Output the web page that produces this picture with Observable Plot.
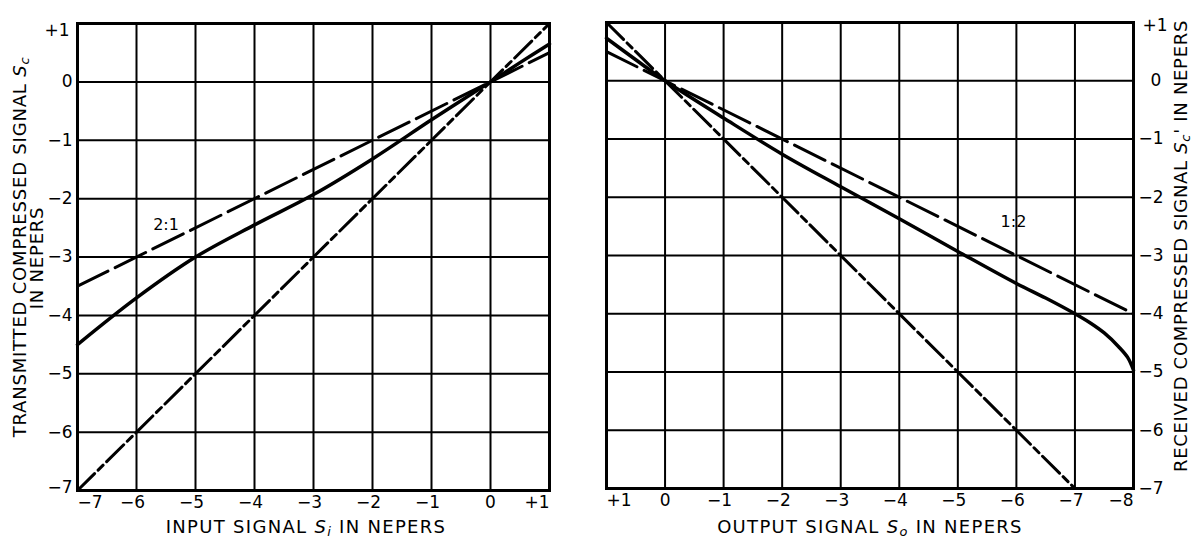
<!DOCTYPE html>
<html><head><meta charset="utf-8">
<script src="https://cdn.jsdelivr.net/npm/d3@7"></script>
<script src="https://cdn.jsdelivr.net/npm/@observablehq/plot@0.6"></script>
<style>
body{margin:0;background:#fff;}
#wrap{display:flex;width:1193px;height:541px;overflow:hidden;}
</style></head><body><div id="wrap"></div>
<script>
// ---- data ----
const yTicks = [1, 0, -1, -2, -3, -4, -5, -6, -7];
const yTickLabels = ["+1", "0", "−1", "−2", "−3", "−4", "−5", "−6", "−7"];

const inputX = [-7, -6, -5, -4, -3, -2, -1, 0, 1];
const inputXLabels = ["−7", "−6", "−5", "−4", "−3", "−2", "−1", "0", "+1"];
const compressorSi = [-7, -6, -5, -4, -3, -2, -1, 0, 0.5, 1];
const compressorSc = [-4.5, -3.7, -3.0, -2.45, -1.93, -1.32, -0.65, 0, 0.33, 0.65];

const outputX = [1, 0, -1, -2, -3, -4, -5, -6, -7, -8];
const outputXLabels = ["+1", "0", "−1", "−2", "−3", "−4", "−5", "−6", "−7", "−8"];
const expanderSo = [1, 0.5, 0, -1, -2, -3, -4, -5, -6, -6.5, -7, -7.25, -7.5, -7.75, -7.9, -8];
const expanderSc = [0.73, 0.36, 0, -0.64, -1.26, -1.82, -2.37, -2.93, -3.48, -3.73, -4.0, -4.15, -4.33, -4.57, -4.75, -4.97];

const ref21X = [-7, 1], ref21Y = [-3.5, 0.5];     // 2:1 reference (left)
const ref11LX = [-7, 1], ref11LY = [-7, 1];       // 1:1 reference (left)
const ref12X = [1, -8], ref12Y = [0.5, -4];       // 1:2 reference (right)
const ref11RX = [1, -7], ref11RY = [1, -7];       // 1:1 reference (right)

const leftRatioLabel = [{text: "2:1", x: -5.5, y: -2.45}];
const rightRatioLabel = [{text: "1:2", x: -5.95, y: -2.43}];

// ---- helpers ----
const FONT = "DejaVu Sans";
const zip = (xs, ys) => xs.map((x, i) => ({x, y: ys[i]}));
const ticksTable = (vs, ls) => vs.map((v, i) => ({v, label: ls[i]}));
const TS = 17;

function addText(svg, {x, y, rotate = 0, anchor = "middle", size = 17, spacing = 0, parts}) {
  const t = d3.select(svg).append("text")
    .attr("transform", `translate(${x},${y}) rotate(${rotate})`)
    .attr("text-anchor", anchor).attr("font-size", size)
    .attr("font-family", FONT).attr("fill", "black")
    .attr("letter-spacing", spacing);
  let shift = 0;
  for (const p of parts) {
    const s = t.append("tspan").text(p.t);
    if (p.italic) s.attr("font-style", "italic");
    if (p.sub) { s.attr("font-size", size * 0.72).attr("dy", 3 - shift); shift = 3; }
    else if (shift) { s.attr("dy", -shift); shift = 0; }
  }
}

const gridStyle = {stroke: "black", strokeOpacity: 1, strokeWidth: 2};
const solidStyle = {stroke: "black", strokeWidth: 3.5, curve: "catmull-rom"};
const dash2 = {stroke: "black", strokeWidth: 3, strokeDasharray: "34,8"};
const dash1 = {stroke: "black", strokeWidth: 3, strokeDasharray: "24,5,7,5"};

// ---- left panel ----
const xtL = ticksTable(inputX, inputXLabels);
const ytb = ticksTable(yTicks, yTickLabels);
const left = Plot.plot({
  width: 590, height: 541,
  marginLeft: 77, marginRight: 41, marginTop: 23, marginBottom: 51,
  x: {domain: [-7, 1], axis: null},
  y: {domain: [-7, 1], axis: null},
  style: {fontFamily: FONT, background: "white"},
  marks: [
    Plot.gridX(inputX, gridStyle),
    Plot.gridY(yTicks, gridStyle),
    Plot.frame({stroke: "black", strokeWidth: 3}),
    Plot.line(zip(ref21X, ref21Y), {x: "x", y: "y", ...dash2}),
    Plot.line(zip(ref11LX, ref11LY), {x: "x", y: "y", ...dash1}),
    Plot.line(zip(compressorSi, compressorSc), {x: "x", y: "y", ...solidStyle}),
    Plot.text(leftRatioLabel, {x: "x", y: "y", text: "text", fontSize: 16, fill: "black"}),
    // x tick labels
    Plot.text(xtL.slice(0, 1), {x: "v", text: "label", frameAnchor: "bottom", dy: 17, textAnchor: "start", fontSize: TS}),
    Plot.text(xtL.slice(1, -2), {x: "v", text: "label", frameAnchor: "bottom", dy: 17, dx: -4, fontSize: TS}),
    Plot.text(xtL.slice(-2, -1), {x: "v", text: "label", frameAnchor: "bottom", dy: 17, fontSize: TS}),
    Plot.text(xtL.slice(-1), {x: "v", text: "label", frameAnchor: "bottom", dy: 17, textAnchor: "end", fontSize: TS}),
    // y tick labels
    Plot.text(ytb.slice(0, 1), {y: "v", text: "label", frameAnchor: "left", dx: -8, dy: 7, textAnchor: "end", fontSize: TS}),
    Plot.text(ytb.slice(1, -1), {y: "v", text: "label", frameAnchor: "left", dx: -5, textAnchor: "end", fontSize: TS}),
    Plot.text(ytb.slice(-1), {y: "v", text: "label", frameAnchor: "left", dx: -5, dy: -3, textAnchor: "end", fontSize: TS})
  ]
});

// ---- right panel ----
const xtR = ticksTable(outputX, outputXLabels);
const right = Plot.plot({
  width: 603, height: 541,
  marginLeft: 16, marginRight: 60, marginTop: 22, marginBottom: 53,
  x: {domain: [1, -8], axis: null},
  y: {domain: [-7, 1], axis: null},
  style: {fontFamily: FONT, background: "white"},
  marks: [
    Plot.gridX(outputX, gridStyle),
    Plot.gridY(yTicks, gridStyle),
    Plot.frame({stroke: "black", strokeWidth: 3}),
    Plot.line(zip(ref12X, ref12Y), {x: "x", y: "y", ...dash2}),
    Plot.line(zip(ref11RX, ref11RY), {x: "x", y: "y", ...dash1}),
    Plot.line(zip(expanderSo, expanderSc), {x: "x", y: "y", ...solidStyle}),
    Plot.text(rightRatioLabel, {x: "x", y: "y", text: "text", fontSize: 16, fill: "black"}),
    // x tick labels
    Plot.text(xtR.slice(0, 1), {x: "v", text: "label", frameAnchor: "bottom", dy: 17, textAnchor: "start", fontSize: TS}),
    Plot.text(xtR.slice(1, 2), {x: "v", text: "label", frameAnchor: "bottom", dy: 17, fontSize: TS}),
    Plot.text(xtR.slice(2, -1), {x: "v", text: "label", frameAnchor: "bottom", dy: 17, dx: -4, fontSize: TS}),
    Plot.text(xtR.slice(-1), {x: "v", text: "label", frameAnchor: "bottom", dy: 17, textAnchor: "end", fontSize: TS}),
    // y tick labels
    Plot.text(ytb.slice(0, 1), {y: "v", text: "label", frameAnchor: "right", dx: 9, dy: 3, textAnchor: "start", fontSize: TS}),
    Plot.text(ytb.slice(1, 2), {y: "v", text: "label", frameAnchor: "right", dx: 17, textAnchor: "start", fontSize: TS}),
    Plot.text(ytb.slice(2), {y: "v", text: "label", frameAnchor: "right", dx: 5, textAnchor: "start", fontSize: TS})
  ]
});

// ---- titles ----
addText(left, {x: 306, y: 533, size: 18, spacing: 1.3, parts: [
  {t: "INPUT SIGNAL "}, {t: "S", italic: true}, {t: "i", sub: true, italic: true}, {t: " IN NEPERS"}]});
addText(left, {x: 26, y: 247, rotate: -90, size: 18, spacing: 0.8, parts: [
  {t: "TRANSMITTED COMPRESSED SIGNAL "}, {t: "S", italic: true}, {t: "c", sub: true, italic: true}]});
addText(left, {x: 43, y: 258, rotate: -90, size: 18, spacing: 0.8, parts: [{t: "IN NEPERS"}]});

addText(right, {x: 870 - 590, y: 533, size: 18, spacing: 1.3, parts: [
  {t: "OUTPUT SIGNAL "}, {t: "S", italic: true}, {t: "o", sub: true, italic: true}, {t: " IN NEPERS"}]});
addText(right, {x: 597, y: 246, rotate: -90, size: 18, spacing: 0.7, parts: [
  {t: "RECEIVED COMPRESSED SIGNAL "}, {t: "S", italic: true}, {t: "c", sub: true, italic: true}, {t: "'"}, {t: " IN NEPERS"}]});

document.getElementById("wrap").append(left, right);
</script></body></html>
